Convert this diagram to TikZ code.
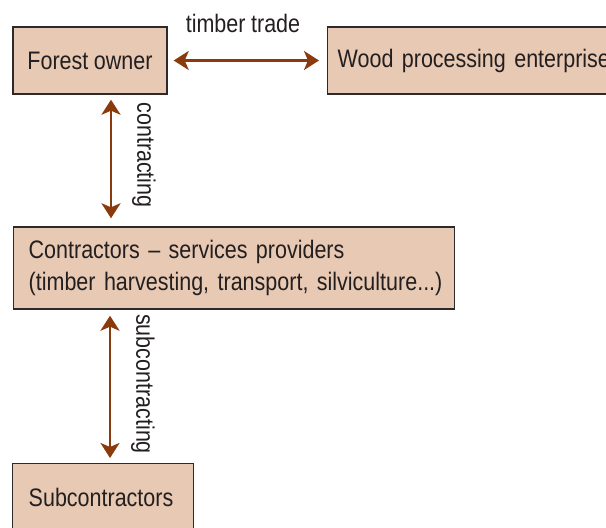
\documentclass[tikz,border=0pt]{standalone}
\usepackage{fontspec}
\setmainfont{Liberation Sans}[FakeStretch=0.85]
\usetikzlibrary{arrows.meta}
\definecolor{boxfill}{HTML}{E8C9B3}
\definecolor{boxline}{HTML}{2E2A2B}
\definecolor{arrowc}{HTML}{8B3A0E}
\definecolor{txt}{HTML}{231F20}
\newcommand{\dfont}{\fontsize{25.3}{32}\selectfont\spaceskip=5.6pt\relax}
\begin{document}
\begin{tikzpicture}[x=1pt,y=-1pt,
  box/.style={draw=boxline,fill=boxfill,line width=1.4pt,inner sep=0pt,
    text=txt,font=\dfont},
  lab/.style={text=txt,font=\dfont,inner sep=0pt},
  arr/.style={draw=arrowc,line width=2.6pt,
    {Stealth[length=15pt,width=19pt,inset=4pt]}-{Stealth[length=15pt,width=19pt,inset=4pt]}}]
\useasboundingbox (0,0) rectangle (606,528);
\node[box,minimum width=154pt,minimum height=67pt] (fo) at (90,60.5) {Forest owner};
\node[box,anchor=west,minimum width=320pt,minimum height=67pt,align=left,text width=300pt,inner xsep=10pt] (wp) at (327,60.5) {\mbox{Wood processing enterprise}};
\node[box,anchor=west,minimum height=82pt,text width=411pt,inner xsep=15pt,align=left] (co) at (13,268) {\mbox{Contractors -- services providers}\\\mbox{(timber harvesting, transport, silviculture...)}};
\node[box,anchor=north west,minimum width=181pt,minimum height=67pt,text width=165pt,inner xsep=8pt,align=left] (sc) at (12,463) {\hspace*{8pt}Subcontractors};
\coordinate (ax) at (111,0);
\coordinate (bx) at (110,0);
\draw[arr,shorten <=6pt,shorten >=8pt] (fo.east) -- (wp.west);
\draw[arr,shorten <=5pt,shorten >=8pt] (fo.south -| ax) -- (co.north -| ax);
\draw[arr,shorten <=6pt,shorten >=5pt] (co.south -| bx) -- (sc.north -| bx);
\node[lab] (l1) at (243,23) {timber trade};
\node[lab,rotate=-90] (l2) at (144,155) {contracting};
\node[lab,rotate=-90] (l3) at (143,384) {subcontracting};
\end{tikzpicture}
\end{document}
